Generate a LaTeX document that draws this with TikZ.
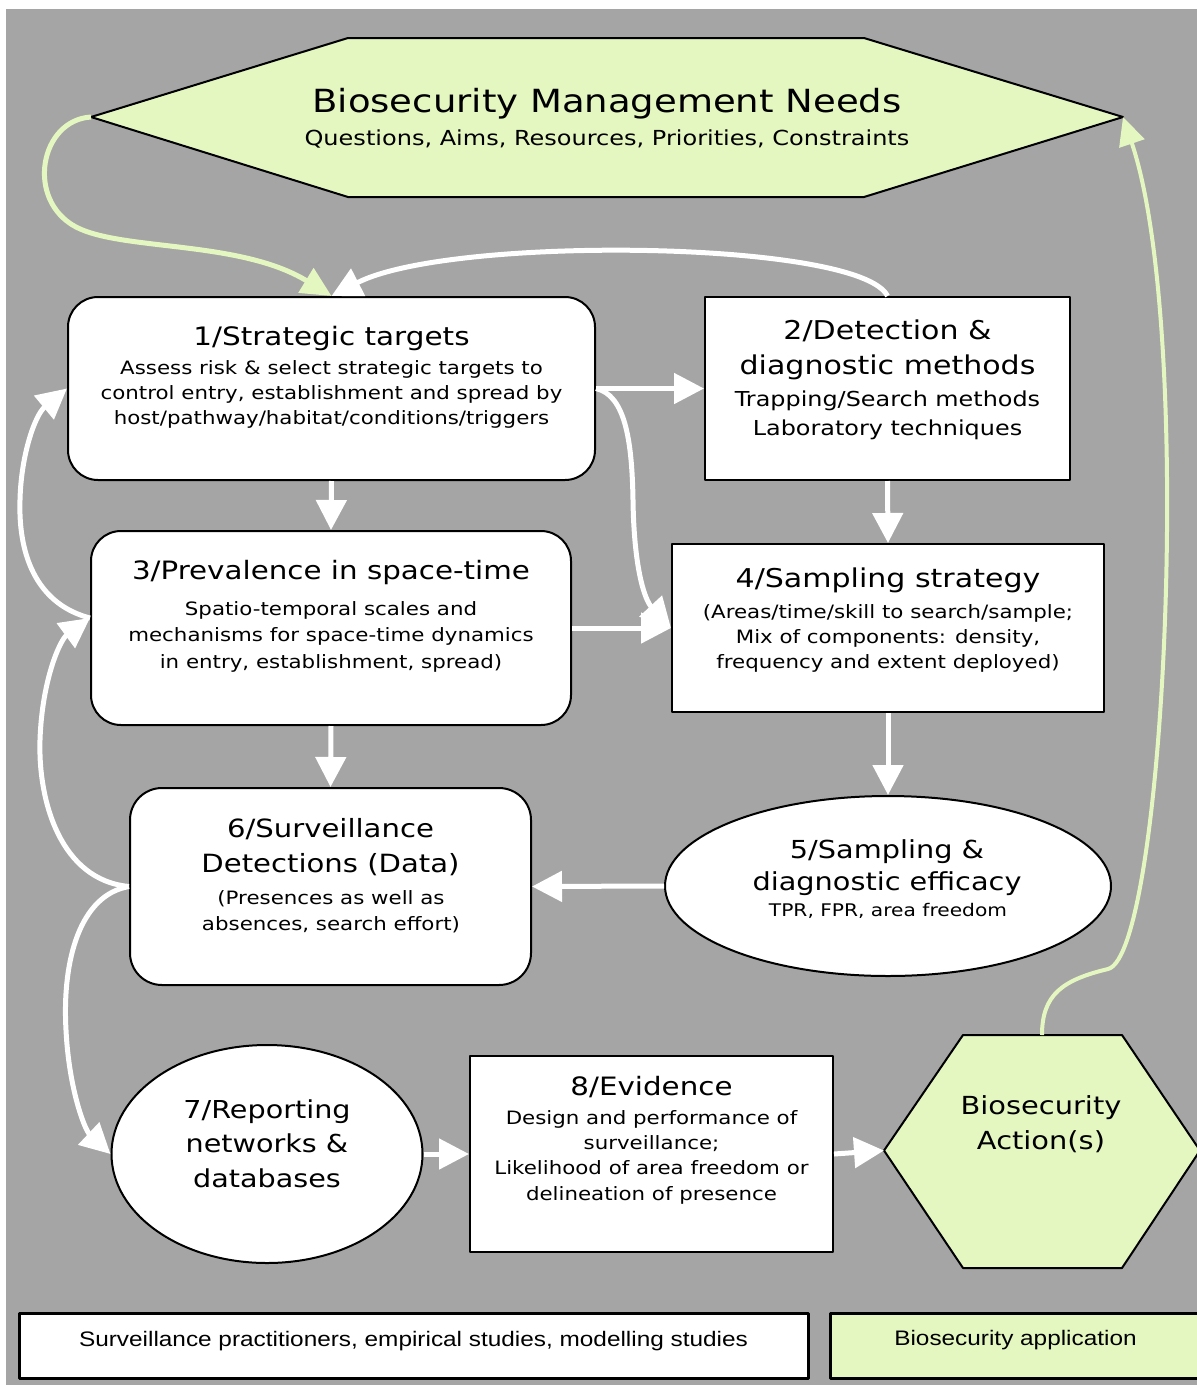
\documentclass[tikz,border=0pt]{standalone}
\usepackage{fontspec}
\setmainfont{DejaVu Sans}[FakeStretch=1.16]
\newfontfamily\legendfont{Liberation Sans}[FakeStretch=1.16]
\usetikzlibrary{arrows.meta,shapes.geometric,calc}
\definecolor{bggray}{HTML}{A5A5A5}
\definecolor{lgreen}{HTML}{E5F7C1}
\newcommand\tblk[3]{{\fontsize{#1}{#2}\selectfont\begin{tabular}[t]{@{}c@{}}#3\end{tabular}}}
\begin{document}
\begin{tikzpicture}[x=1pt,y=-1pt,line join=round]
\tikzset{
 wbox/.style={draw=black, line width=2pt, fill=white, inner sep=0pt},
 rbox/.style={wbox, rounded corners=30pt},
 ell/.style={wbox, ellipse},
 txt/.style={inner sep=0pt, anchor=base, text=black},
 warrow/.style={draw=white, line width=5pt, -{Triangle[length=30pt,width=30pt]}},
 garrow/.style={draw=lgreen, line width=5pt, -{Triangle[length=30pt,width=28pt]}},
 hexa/.style={draw=black, line width=2pt, fill=lgreen},
}
\useasboundingbox (0,0) rectangle (1197,1385);
\fill[white] (0,0) rectangle (1197,1385);
\fill[bggray] (6,9) rectangle (1197,1385);

% top hexagon
\filldraw[hexa] (91,117) -- (348,38) -- (864,38) -- (1123,117) -- (864,197) -- (348,197) -- cycle;
\coordinate (needsL) at (91,117);
\coordinate (needsR) at (1123,117);
\node[txt] (tneeds) at (607,112.7) {\fontsize{31.9}{38}\selectfont Biosecurity Management Needs};
\node[txt] (sneeds) at (607,145) {\fontsize{20.7}{25}\selectfont Questions, Aims, Resources, Priorities, Constraints};

% boxes
\node[rbox, minimum width=527pt, minimum height=183pt] (b1) at (331.5,388.5) {};
\node[wbox, minimum width=365pt, minimum height=183pt] (b2) at (887.5,388.5) {};
\node[rbox, minimum width=480pt, minimum height=194pt] (b3) at (331,628) {};
\node[wbox, minimum width=432pt, minimum height=168pt] (b4) at (888,628) {};
\node[ell, minimum width=446pt, minimum height=180pt] (e5) at (888,886) {};
\node[rbox, rounded corners=32pt, minimum width=401pt, minimum height=197pt] (b6) at (330.5,886.5) {};
\node[ell, minimum width=311pt, minimum height=218pt] (e7) at (267,1154) {};
\node[wbox, minimum width=363pt, minimum height=196pt] (b8) at (651.5,1154) {};

% action hexagon
\filldraw[hexa] (884,1150.5) -- (963,1035) -- (1122,1035) -- (1200,1150.5) -- (1122,1268) -- (963,1268) -- cycle;
\coordinate (actL) at (884,1150.5);
\coordinate (actT) at (1042,1035);

% legend
\node[wbox, line width=3pt, minimum width=789pt, minimum height=65pt] (legA) at (413.5,1345.5) {};
\node[wbox, line width=3pt, fill=lgreen, minimum width=375pt, minimum height=65pt] (legB) at (1017.5,1345.5) {};
\node[txt] (tlegA) at (413.5,1346) {\legendfont\fontsize{21}{25}\selectfont Surveillance practitioners, empirical studies, modelling studies};
\node[txt] (tlegB) at (1015.5,1345) {\legendfont\fontsize{21}{25}\selectfont Biosecurity application};

% texts
\node[txt] (t1) at (331.5,345) {\fontsize{25.4}{30}\selectfont 1/Strategic targets};
\node[txt] (d1) at (331.5,374) {\tblk{18.4}{25}{Assess risk \& select strategic targets to\\control entry, establishment and spread by\\host/pathway/habitat/conditions/triggers}};
\node[txt] (t2) at (887.5,339) {\tblk{25.9}{35}{2/Detection \&\\diagnostic methods}};
\node[txt] (d2) at (887.5,406) {\tblk{20.6}{29}{Trapping/Search methods\\Laboratory techniques}};
\node[txt] (t3) at (331,579) {\fontsize{25.3}{30}\selectfont 3/Prevalence in space-time};
\node[txt] (d3) at (331,615) {\tblk{18.4}{26.5}{Spatio-temporal scales and\\mechanisms for space-time dynamics\\in entry, establishment, spread)}};
\node[txt] (t4) at (888,587) {\fontsize{25.9}{30}\selectfont 4/Sampling strategy};
\node[txt] (d4) at (888,618) {\tblk{18.4}{25}{(Areas/time/skill to search/sample;\\Mix of components: density,\\frequency and extent deployed)}};
\node[txt] (t5) at (887,858.5) {\tblk{24.8}{31.5}{5/Sampling \&\\diagnostic efficacy}};
\node[txt] (d5) at (888,916) {\fontsize{17.4}{21}\selectfont TPR, FPR, area freedom};
\node[txt] (t6) at (330.5,837) {\tblk{25.1}{35}{6/Surveillance\\Detections (Data)}};
\node[txt] (d6) at (331,904.5) {\tblk{18.4}{25.5}{(Presences as well as\\absences, search effort)}};
\node[txt] (t7) at (267,1118) {\tblk{24.7}{34.5}{7/Reporting\\networks \&\\databases}};
\node[txt] (t8) at (651.5,1095) {\fontsize{25.3}{30}\selectfont 8/Evidence};
\node[txt] (d8) at (651.5,1124.5) {\tblk{18.4}{25.2}{Design and performance of\\surveillance;\\Likelihood of area freedom or\\delineation of presence}};
\node[txt] (tact) at (1041,1114) {\tblk{24.9}{35}{Biosecurity\\Action(s)}};

% connectors
\coordinate (b3w) at ($(b3.west)+(0,-10)$);
\draw[garrow] (needsL) .. controls (40,120) and (25,200) .. (76,227) .. controls (122,251) and (240,240) .. (b1.north);
\draw[warrow] (b2.north) .. controls (860,240) and (450,235) .. (b1.north);
\draw[warrow] (b1.east) -- (b2.west);
\draw[warrow] (b1.east) .. controls (625,395) and (632,440) .. (633,500) .. controls (634,570) and (645,600) .. (b4.west);
\draw[warrow] (b3.east) -- (b4.west);
\draw[warrow] (b1.south) -- (b3.north);
\draw[warrow] (b2.south) -- (b4.north);
\draw[warrow] (b3.south) -- (b6.north);
\draw[warrow] (b4.south) -- (e5.north);
\draw[warrow] (e5.west) -- (b6.east);
\draw[warrow] (b6.west) .. controls (60,880) and (38,800) .. (40,740) .. controls (42,680) and (60,640) .. (b3w);
\draw[warrow] (b3w) .. controls (40,605) and (18,560) .. (20,500) .. controls (21,455) and (35,415) .. (b1.west);
\draw[warrow] (b6.west) .. controls (80,895) and (62,960) .. (66,1030) .. controls (69,1090) and (85,1130) .. (e7.west);
\draw[warrow] (e7.east) -- (b8.west);
\draw[warrow] (b8.east) -- (actL);
\draw[garrow, line width=4pt, -{Triangle[length=28pt,width=26pt]}] (actT) .. controls (1042,995) and (1062,980) .. (1108,969) .. controls (1165,955) and (1195,330) .. (needsR);
\end{tikzpicture}
\end{document}
